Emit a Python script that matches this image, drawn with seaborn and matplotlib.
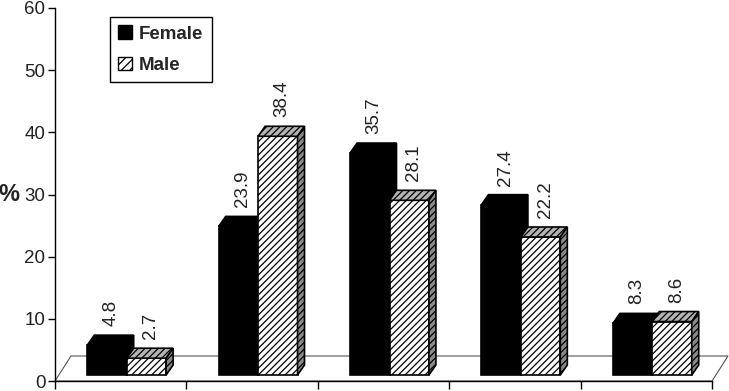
import numpy as np
import pandas as pd
import matplotlib.pyplot as plt
import seaborn as sns
from matplotlib.patches import Polygon, Patch
from matplotlib.transforms import ScaledTranslation

# data
groups = ['1', '2', '3', '4', '5']
sexes = ['Female', 'Male']
female = [4.8, 23.9, 35.7, 27.4, 8.3]
male = [2.7, 38.4, 28.1, 22.2, 8.6]
y_ticks = [0, 10, 20, 30, 40, 50, 60]

df = pd.DataFrame({
    'group': groups * 2,
    'sex': [sexes[0]] * len(groups) + [sexes[1]] * len(groups),
    'pct': female + male,
})

sns.set_style('ticks')
plt.rcParams['font.family'] = ['Liberation Sans', 'DejaVu Sans']
plt.rcParams['hatch.linewidth'] = 0.9
plt.rcParams['hatch.color'] = 'black'

W, H, DPI = 729, 391, 100
fig = plt.figure(figsize=(W / DPI, H / DPI), dpi=DPI)
# axes box in pixels: x 55..712, y 8..381 (from top)
ax = fig.add_axes([55 / W, 10 / H, 657 / W, 373 / H])

sns.barplot(
    data=df, x='group', y='pct', hue='sex',
    palette=['black', 'white'], width=0.6, saturation=1,
    edgecolor='black', linewidth=1.2, errorbar=None,
    legend=False, ax=ax
)

ax.set_xlim(-0.5, len(groups) - 0.5)
ax.set_ylim(y_ticks[0], y_ticks[-1])

# pixels per data unit
xs = 657 / len(groups)
ys = 373 / (y_ticks[-1] - y_ticks[0])

# pseudo-3D: bars sit a bit back on the floor
shift = ScaledTranslation(6 / DPI, 6 / DPI, fig.dpi_scale_trans)
tr = ax.transData + shift
ddx, ddy = 7 / xs, 10 / ys

# floor
fdx, fdy = 16 / xs, 25 / ys
x_lo, x_hi = ax.get_xlim()
floor = Polygon(
    [(x_lo, 0), (x_hi, 0), (x_hi + fdx, fdy), (x_lo + fdx, fdy)],
    closed=True, fill=False, edgecolor='#555555', linewidth=0.8,
    clip_on=False, zorder=1
)
ax.add_patch(floor)

styles = [
    # front, top, side, hatch, zorder
    ('black', 'black', 'black', None, 2),
    ('white', '#b4b4b4', '#8a8a8a', '/////', 3),
]

for cont, (front, top, side, hatch, z), vals in zip(ax.containers, styles, [female, male]):
    for p, v in zip(cont.patches, vals):
        p.set_transform(tr)
        p.set_clip_on(False)
        p.set_zorder(z)
        p.set_facecolor(front)
        if hatch:
            p.set_hatch(hatch)
        x0 = p.get_x()
        x1 = x0 + p.get_width()
        h = p.get_height()
        top_face = Polygon(
            [(x0, h), (x1, h), (x1 + ddx, h + ddy), (x0 + ddx, h + ddy)],
            closed=True, facecolor=top, edgecolor='black', linewidth=1.2,
            hatch=hatch, transform=tr, clip_on=False, zorder=z
        )
        side_face = Polygon(
            [(x1, 0), (x1 + ddx, ddy), (x1 + ddx, h + ddy), (x1, h)],
            closed=True, facecolor=side, edgecolor='black', linewidth=1.2,
            hatch=hatch, transform=tr, clip_on=False, zorder=z
        )
        ax.add_patch(top_face)
        ax.add_patch(side_face)

        ax.annotate(
            f'{v:.1f}', xy=(x0 + (x1 - x0) / 2, h),
            xytext=(7.5, 18), textcoords='offset points',
            rotation=90, ha='center', va='bottom', fontsize=13.5,
            color='#222222'
        )

# axes styling
sns.despine(ax=ax)
for s in ['left', 'bottom']:
    ax.spines[s].set_color('black')
    ax.spines[s].set_linewidth(1.0)

ax.set_yticks(y_ticks)
ax.tick_params(axis='y', direction='out', length=5, width=1, labelsize=13.5,
               pad=2, colors='black', labelcolor='#222222')
ax.set_xticks(np.arange(x_lo, x_hi + 0.01, 1))
ax.set_xticklabels([])
ax.tick_params(axis='x', direction='out', length=6, width=1, colors='black')
ax.set_xlabel('')

ax.set_ylabel('%', rotation=0, fontsize=17, fontweight='bold',
              va='center', ha='center', color='#222222')
ax.yaxis.set_label_coords(-46 / 657, 0.5)

# legend
handles = [
    Patch(facecolor='black', edgecolor='black'),
    Patch(facecolor='white', edgecolor='black', hatch='////'),
]
leg = fig.legend(
    handles, sexes, loc='upper left',
    bbox_to_anchor=(110 / W, 1 - 17 / H),
    prop={'weight': 'bold', 'size': 13.5},
    fancybox=False, framealpha=1, edgecolor='black',
    handlelength=0.7, handleheight=0.7, handletextpad=0.4,
    labelspacing=0.75, borderpad=0.45, borderaxespad=0
)
leg.get_frame().set_linewidth(1.0)

fig.savefig('out.png', dpi=DPI)
